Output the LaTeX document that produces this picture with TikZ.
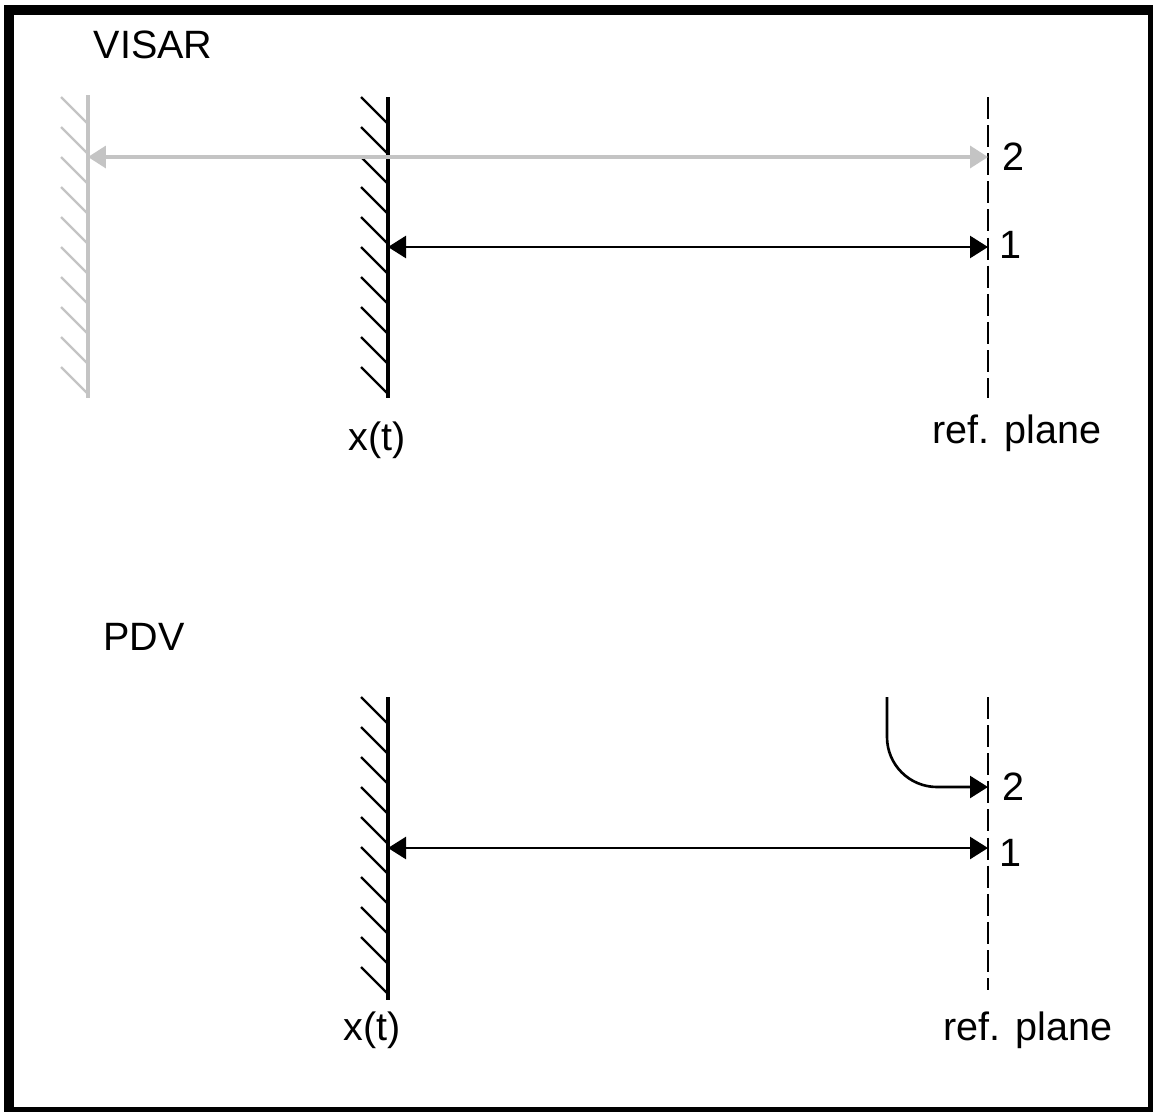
\documentclass[tikz,border=0pt]{standalone}
\usepackage{fontspec}
\setmainfont{Liberation Sans}
\usetikzlibrary{positioning, arrows.meta}
\definecolor{visarGray}{RGB}{196, 196, 196}

\begin{document}
\begin{tikzpicture}[
                x=0.02cm, y=-0.02cm,
                txt/.style={font=\fontsize{22.5}{26}\selectfont, inner sep=0pt},
                wall/.style={line width=1.8pt},
                hatch/.style={line width=1.3pt},
                refline/.style={line width=1.5pt, dash pattern=on 12.5pt off 3.5pt},
                arrow/.style={{Triangle[length=0.36cm, width=0.44cm]}-{Triangle[length=0.36cm, width=0.44cm]}, line width=1.5pt},
                onearrow/.style={-{Triangle[length=0.36cm, width=0.44cm]}, line width=1.5pt}
            ]
                \useasboundingbox (0,0) rectangle (1153,1112);
                \begin{scope}
                  \clip (0,0) rectangle (1153,1112);
                  \draw[line width=5.2pt] (9,10) rectangle (1153,1112);
                \end{scope}

                % --- VISAR (TOP) ---
                \node[txt] (visar_t) at (153,45) {VISAR};
                \coordinate (v_far_top) at (88,95);
                \coordinate (v_far_bot) at (88,398);
                \coordinate (v_x_top) at (388,97);
                \coordinate (v_x_bot) at (388,398);
                \coordinate (v_ref_top) at (988,97);
                \coordinate (v_ref_bot) at (988,398);
                \coordinate (v_far2) at (88,157);
                \coordinate (v_ref2) at (988,157);
                \coordinate (v_x1) at (388,247);
                \coordinate (v_ref1) at (988,247);

                % far mirror (grey)
                \draw[wall, visarGray] (v_far_top) -- (v_far_bot);
                \foreach \i in {0,...,9}
                  \draw[hatch, visarGray] (61,97+30*\i) -- (88,124+30*\i);
                % moving surface
                \draw[wall] (v_x_top) -- (v_x_bot);
                \foreach \i in {0,...,9}
                  \draw[hatch] (361,97+30*\i) -- (388,124+30*\i);
                % reference plane
                \draw[refline] (v_ref_top) -- (v_ref_bot);

                % Arrows for VISAR
                \draw[arrow, visarGray, line width=2pt] (v_far2) -- (v_ref2);
                \draw[arrow] (v_x1) -- (v_ref1);

                \node[txt, anchor=west] (v_lab2) at (1002,157) {2};
                \node[txt, anchor=west] (v_lab1) at (999,245) {1};
                \node[txt] (v_xt) at (377,440) {x(t)};
                \node[txt] (v_refp) at (1017,433) {ref. plane};

                % --- PDV (BOTTOM) ---
                \node[txt] (pdv_t) at (144,637) {PDV};
                \coordinate (p_x_top) at (388,697);
                \coordinate (p_x_bot) at (388,1000);
                \coordinate (p_ref_top) at (988,697);
                \coordinate (p_ref_bot) at (988,990);
                \coordinate (p_src) at (887,697);
                \coordinate (p_ref2) at (988,787);
                \coordinate (p_x1) at (388,848);
                \coordinate (p_ref1) at (988,848);

                \draw[wall] (p_x_top) -- (p_x_bot);
                \foreach \i in {0,...,9}
                  \draw[hatch] (361,697+30*\i) -- (388,724+30*\i);
                \draw[refline] (p_ref_top) -- (p_ref_bot);

                % Arrows for PDV
                \draw[onearrow, rounded corners=1cm] (p_src) |- (p_ref2);
                \draw[arrow] (p_x1) -- (p_ref1);

                \node[txt, anchor=west] (p_lab2) at (1002,787) {2};
                \node[txt, anchor=west] (p_lab1) at (999,853) {1};
                \node[txt] (p_xt) at (372,1030) {x(t)};
                \node[txt] (p_refp) at (1028,1030) {ref. plane};

\end{tikzpicture}
\end{document}
